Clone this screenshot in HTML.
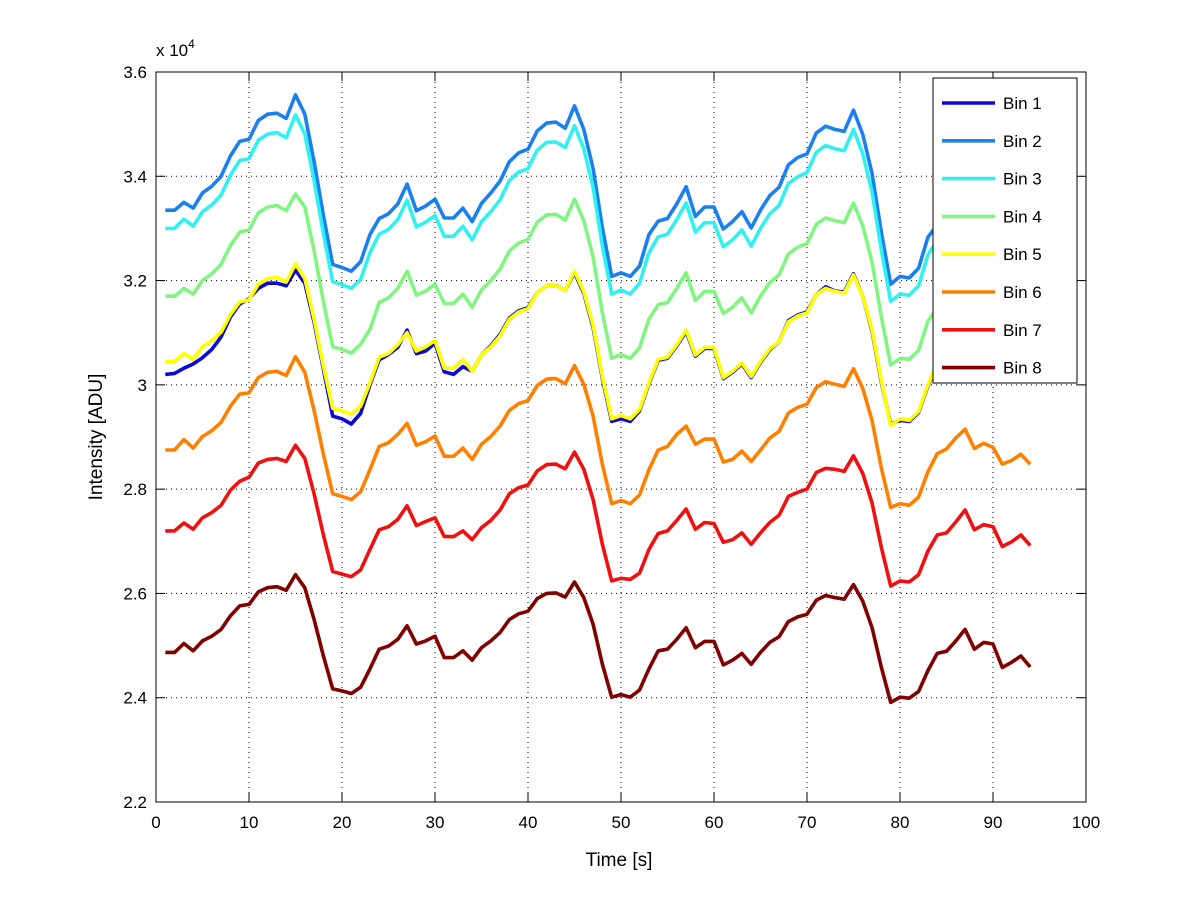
<!DOCTYPE html>
<html><head><meta charset="utf-8"><style>
html,body{margin:0;padding:0;background:#fff}
svg{display:block;font-family:"Liberation Sans",sans-serif}
</style></head><body>
<svg id="chart" width="1200" height="901" viewBox="0 0 1200 901" xmlns="http://www.w3.org/2000/svg">
<rect width="1200" height="901" fill="#fff"/>
<g id="grid"></g><g id="series"></g><g id="axes"></g><g id="legend"></g>
</svg>
<script>
const xTicks=[0,10,20,30,40,50,60,70,80,90,100];
const yTicks=[2.2,2.4,2.6,2.8,3,3.2,3.4,3.6];
const yTickLabels=["2.2","2.4","2.6","2.8","3","3.2","3.4","3.6"];
const seriesNames=["Bin 1","Bin 2","Bin 3","Bin 4","Bin 5","Bin 6","Bin 7","Bin 8"];
const seriesColors=["#0a0ad2","#1a80f0","#30f0f0","#80f580","#ffff00","#ff8000","#f01010","#800000"];
const bin1=[3.020,3.022,3.032,3.040,3.052,3.068,3.092,3.130,3.155,3.165,3.185,3.195,3.195,3.190,3.220,3.195,3.120,3.030,2.940,2.935,2.925,2.945,3.000,3.048,3.058,3.072,3.105,3.060,3.065,3.080,3.025,3.020,3.035,3.026,3.057,3.075,3.097,3.128,3.142,3.148,3.177,3.190,3.191,3.181,3.215,3.176,3.110,3.012,2.930,2.935,2.930,2.950,3.002,3.047,3.051,3.075,3.102,3.055,3.070,3.070,3.012,3.024,3.040,3.014,3.043,3.067,3.083,3.123,3.134,3.140,3.173,3.188,3.180,3.178,3.213,3.170,3.102,3.005,2.925,2.932,2.930,2.947,2.998,3.040,3.046,3.071,3.099,3.051,3.067,3.063,3.006,3.019,3.034,3.007];
const bin2=[3.335,3.335,3.350,3.339,3.368,3.381,3.400,3.439,3.467,3.471,3.507,3.519,3.521,3.511,3.556,3.519,3.428,3.325,3.231,3.225,3.218,3.236,3.288,3.319,3.328,3.347,3.385,3.334,3.343,3.356,3.320,3.320,3.339,3.313,3.348,3.368,3.391,3.428,3.445,3.452,3.487,3.502,3.504,3.492,3.535,3.490,3.415,3.301,3.208,3.215,3.208,3.228,3.288,3.314,3.319,3.347,3.380,3.323,3.341,3.341,3.299,3.313,3.332,3.301,3.335,3.363,3.379,3.422,3.436,3.443,3.483,3.496,3.490,3.486,3.527,3.480,3.405,3.292,3.193,3.208,3.205,3.224,3.283,3.307,3.313,3.343,3.375,3.319,3.338,3.334,3.292,3.307,3.325,3.294];
const bin3=[3.300,3.300,3.318,3.304,3.332,3.345,3.364,3.402,3.430,3.434,3.469,3.481,3.484,3.474,3.518,3.481,3.392,3.290,3.198,3.192,3.185,3.202,3.253,3.289,3.298,3.317,3.354,3.303,3.312,3.325,3.285,3.285,3.304,3.278,3.313,3.332,3.355,3.392,3.408,3.415,3.450,3.465,3.466,3.455,3.497,3.453,3.379,3.266,3.174,3.182,3.174,3.195,3.253,3.284,3.289,3.317,3.349,3.293,3.311,3.311,3.265,3.278,3.297,3.266,3.300,3.328,3.344,3.386,3.399,3.407,3.446,3.459,3.453,3.449,3.490,3.443,3.369,3.258,3.160,3.174,3.172,3.190,3.249,3.277,3.283,3.312,3.344,3.289,3.308,3.303,3.258,3.272,3.290,3.259];
const bin4=[3.170,3.170,3.185,3.174,3.200,3.213,3.231,3.267,3.293,3.297,3.330,3.341,3.344,3.334,3.366,3.341,3.257,3.160,3.073,3.068,3.061,3.078,3.106,3.158,3.167,3.185,3.218,3.172,3.180,3.193,3.156,3.156,3.174,3.149,3.182,3.200,3.222,3.257,3.272,3.279,3.312,3.326,3.327,3.316,3.356,3.315,3.245,3.138,3.051,3.058,3.051,3.071,3.126,3.154,3.158,3.185,3.215,3.162,3.179,3.179,3.137,3.149,3.167,3.138,3.170,3.196,3.211,3.251,3.264,3.271,3.308,3.320,3.315,3.311,3.349,3.305,3.235,3.130,3.038,3.051,3.049,3.066,3.122,3.147,3.153,3.180,3.211,3.158,3.176,3.172,3.130,3.144,3.160,3.131];
const bin5=[3.045,3.045,3.060,3.049,3.073,3.085,3.101,3.135,3.159,3.163,3.193,3.204,3.206,3.197,3.232,3.204,3.126,3.036,2.955,2.950,2.944,2.959,3.004,3.053,3.060,3.077,3.100,3.065,3.073,3.085,3.032,3.032,3.049,3.026,3.057,3.073,3.094,3.126,3.140,3.146,3.177,3.190,3.191,3.181,3.218,3.179,3.114,3.016,2.935,2.941,2.935,2.953,3.004,3.049,3.053,3.077,3.105,3.057,3.072,3.072,3.014,3.026,3.042,3.016,3.045,3.069,3.083,3.121,3.132,3.138,3.173,3.185,3.179,3.176,3.211,3.170,3.105,3.008,2.922,2.935,2.932,2.949,3.000,3.042,3.048,3.073,3.101,3.053,3.069,3.065,3.008,3.021,3.036,3.009];
const bin6=[2.875,2.875,2.895,2.879,2.901,2.912,2.928,2.959,2.982,2.985,3.014,3.024,3.026,3.018,3.054,3.024,2.951,2.867,2.791,2.786,2.780,2.795,2.837,2.882,2.889,2.905,2.926,2.884,2.891,2.902,2.863,2.863,2.879,2.857,2.886,2.901,2.921,2.951,2.964,2.970,2.999,3.011,3.012,3.002,3.037,3.001,2.940,2.847,2.772,2.778,2.772,2.789,2.837,2.875,2.882,2.905,2.921,2.886,2.896,2.896,2.852,2.857,2.873,2.853,2.875,2.898,2.911,2.946,2.957,2.963,2.995,3.006,3.001,2.997,3.031,2.993,2.931,2.840,2.765,2.772,2.769,2.785,2.833,2.868,2.877,2.898,2.915,2.878,2.888,2.880,2.848,2.855,2.867,2.848];
const bin7=[2.720,2.720,2.735,2.723,2.745,2.755,2.769,2.798,2.815,2.823,2.850,2.857,2.859,2.853,2.884,2.859,2.791,2.712,2.642,2.637,2.632,2.645,2.684,2.722,2.728,2.742,2.768,2.730,2.738,2.745,2.709,2.709,2.720,2.703,2.726,2.740,2.760,2.791,2.803,2.808,2.835,2.847,2.848,2.839,2.871,2.838,2.780,2.694,2.624,2.629,2.627,2.639,2.684,2.715,2.720,2.740,2.762,2.723,2.736,2.734,2.698,2.703,2.716,2.694,2.716,2.736,2.750,2.786,2.794,2.800,2.832,2.840,2.838,2.834,2.864,2.830,2.773,2.688,2.614,2.624,2.622,2.636,2.681,2.712,2.716,2.737,2.760,2.722,2.732,2.728,2.690,2.699,2.712,2.692];
const bin8=[2.487,2.487,2.504,2.490,2.509,2.518,2.531,2.557,2.576,2.579,2.603,2.611,2.613,2.606,2.636,2.611,2.550,2.480,2.417,2.413,2.408,2.420,2.455,2.493,2.499,2.512,2.538,2.503,2.509,2.518,2.477,2.477,2.490,2.472,2.496,2.509,2.525,2.550,2.561,2.566,2.590,2.600,2.601,2.593,2.622,2.592,2.541,2.464,2.401,2.406,2.401,2.415,2.455,2.490,2.493,2.512,2.534,2.496,2.508,2.508,2.463,2.472,2.485,2.464,2.487,2.506,2.517,2.546,2.555,2.560,2.587,2.596,2.592,2.589,2.617,2.585,2.534,2.458,2.391,2.401,2.399,2.412,2.452,2.485,2.489,2.509,2.531,2.493,2.506,2.503,2.458,2.468,2.480,2.459];
const allSeries=[bin1,bin2,bin3,bin4,bin5,bin6,bin7,bin8];

const L=156,R=1086,T=72,B=802;
const xMin=0,xMax=100,yMin=2.2,yMax=3.6;
function sx(v){return L+(v-xMin)/(xMax-xMin)*(R-L);}
function sy(v){return B-(v-yMin)/(yMax-yMin)*(B-T);}
const NS="http://www.w3.org/2000/svg";
function mk(tag,attrs,parent){const e=document.createElementNS(NS,tag);for(const k in attrs)e.setAttribute(k,attrs[k]);parent.appendChild(e);return e;}
const grid=document.getElementById('grid'),ser=document.getElementById('series'),axes=document.getElementById('axes'),leg=document.getElementById('legend');

xTicks.forEach((t,i)=>{
  const x=sx(t);
  if(i>0&&i<xTicks.length-1){
    const g=mk('line',{x1:x,y1:T,x2:x,y2:B,stroke:'#000','stroke-width':1,'stroke-dasharray':'1,4'},grid);
    
    
  }
  mk('line',{x1:x,y1:B,x2:x,y2:B-9,stroke:'#000','stroke-width':1},axes);
  mk('line',{x1:x,y1:T,x2:x,y2:T+9,stroke:'#000','stroke-width':1},axes);
  const tx=mk('text',{x:x,y:B+26,'text-anchor':'middle','font-size':17,fill:'#000'},axes);
  tx.textContent=String(t);
  
  
});
yTicks.forEach((t,i)=>{
  const y=sy(t);
  if(i>0&&i<yTicks.length-1){
    const g=mk('line',{x1:L,y1:y,x2:R,y2:y,stroke:'#000','stroke-width':1,'stroke-dasharray':'1,4'},grid);
    
    
  }
  mk('line',{x1:L,y1:y,x2:L+9,y2:y,stroke:'#000','stroke-width':1},axes);
  mk('line',{x1:R,y1:y,x2:R-9,y2:y,stroke:'#000','stroke-width':1},axes);
  const tx=mk('text',{x:L-9,y:y+6,'text-anchor':'end','font-size':17,fill:'#000'},axes);
  tx.textContent=yTickLabels[i];
  
  
});
const frame=mk('rect',{x:L,y:T,width:R-L,height:B-T,fill:'none',stroke:'#000','stroke-width':1},axes);



allSeries.forEach((arr,k)=>{
  const pts=arr.map((v,i)=>sx(i+1).toFixed(1)+','+sy(v).toFixed(1)).join(' ');
  const pl=mk('polyline',{points:pts,fill:'none',stroke:seriesColors[k],'stroke-width':3.6,'stroke-linejoin':'round'},ser);
  
  
});

const lb=mk('rect',{x:933,y:78,width:144,height:305,fill:'#fff',stroke:'#000','stroke-width':1},leg);


seriesNames.forEach((n,k)=>{
  const y=103+k*37.8;
  const ln=mk('line',{x1:942,y1:y,x2:995,y2:y,stroke:seriesColors[k],'stroke-width':3.6},leg);
  
  
  const tx=mk('text',{x:1003,y:y+6,'font-size':17,fill:'#000'},leg);
  tx.textContent=n;
  
  
});
</script>
<svg style="position:absolute;left:0;top:0" width="1200" height="901">
<text x="156" y="56" font-size="17" font-family="Liberation Sans, sans-serif">x 10<tspan font-size="12" dy="-8">4</tspan></text>
<text x="619" y="866" font-size="19" text-anchor="middle" font-family="Liberation Sans, sans-serif">Time [s]</text>
<text transform="translate(102,437) rotate(-90)" font-size="19" text-anchor="middle" font-family="Liberation Sans, sans-serif">Intensity [ADU]</text>
</svg>
</body></html>
